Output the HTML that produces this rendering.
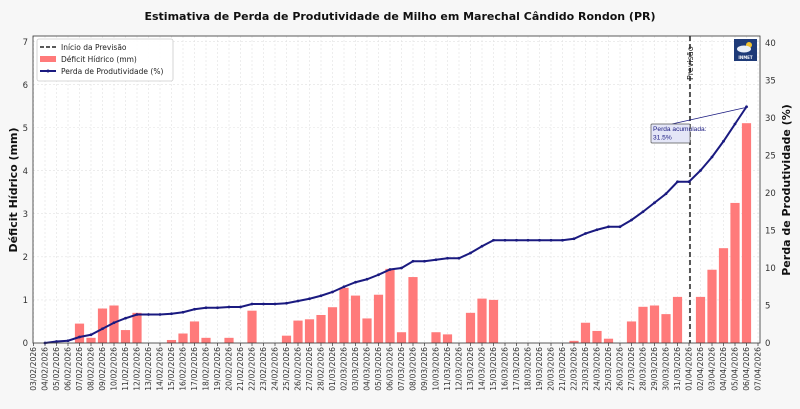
<!DOCTYPE html>
<html><head><meta charset="utf-8"><style>
html,body{margin:0;padding:0;background:#f7f7f7;}
svg{display:block;font-family:"DejaVu Sans","Liberation Sans",sans-serif;}
</style></head><body>
<svg id="s" width="800" height="409" xmlns="http://www.w3.org/2000/svg">
<rect x="0" y="0" width="800" height="409" fill="#f7f7f7"/>
<rect x="33" y="36" width="727" height="307" fill="#ffffff"/>
<g id="grid"></g>
<g id="bars"></g>
<line x1="690" y1="36" x2="690" y2="343" stroke="#222" stroke-width="1.5" stroke-dasharray="5,3"/>
<text transform="translate(693,80) rotate(-90)" font-size="8" fill="#222">Previsão</text>
<g id="line"></g>
<rect x="33" y="36" width="727" height="307" fill="none" stroke="#333" stroke-width="0.8"/>
<text x="400" y="20" text-anchor="middle" font-size="11" font-weight="bold" fill="#111">Estimativa de Perda de Produtividade de Milho em Marechal Cândido Rondon (PR)</text>
<text transform="translate(17,190) rotate(-90)" text-anchor="middle" font-size="11" font-weight="bold" fill="#111">Déficit Hídrico (mm)</text>
<text transform="translate(790,190) rotate(-90)" text-anchor="middle" font-size="11" font-weight="bold" fill="#111">Perda de Produtividade (%)</text>
<g font-size="8.5" fill="#333">
<text x="28" y="346" text-anchor="end">0</text>
<text x="28" y="303" text-anchor="end">1</text>
<text x="28" y="260" text-anchor="end">2</text>
<text x="28" y="217" text-anchor="end">3</text>
<text x="28" y="174" text-anchor="end">4</text>
<text x="28" y="131" text-anchor="end">5</text>
<text x="28" y="88" text-anchor="end">6</text>
<text x="28" y="45" text-anchor="end">7</text>
<text x="765" y="346">0</text>
<text x="765" y="308.5">5</text>
<text x="765" y="271">10</text>
<text x="765" y="233.5">15</text>
<text x="765" y="196">20</text>
<text x="765" y="158.5">25</text>
<text x="765" y="121">30</text>
<text x="765" y="83.5">35</text>
<text x="765" y="46">40</text>
</g>
<g id="ticks" font-size="7.6" fill="#333">
<text transform="translate(36,347) rotate(-90)" text-anchor="end">03/02/2026</text>
<text transform="translate(47.5,347) rotate(-90)" text-anchor="end">04/02/2026</text>
<text transform="translate(59,347) rotate(-90)" text-anchor="end">05/02/2026</text>
<text transform="translate(70.5,347) rotate(-90)" text-anchor="end">06/02/2026</text>
<text transform="translate(82,347) rotate(-90)" text-anchor="end">07/02/2026</text>
<text transform="translate(93.5,347) rotate(-90)" text-anchor="end">08/02/2026</text>
<text transform="translate(105,347) rotate(-90)" text-anchor="end">09/02/2026</text>
<text transform="translate(116.5,347) rotate(-90)" text-anchor="end">10/02/2026</text>
<text transform="translate(128,347) rotate(-90)" text-anchor="end">11/02/2026</text>
<text transform="translate(139.5,347) rotate(-90)" text-anchor="end">12/02/2026</text>
<text transform="translate(151,347) rotate(-90)" text-anchor="end">13/02/2026</text>
<text transform="translate(162.5,347) rotate(-90)" text-anchor="end">14/02/2026</text>
<text transform="translate(174,347) rotate(-90)" text-anchor="end">15/02/2026</text>
<text transform="translate(185.5,347) rotate(-90)" text-anchor="end">16/02/2026</text>
<text transform="translate(197,347) rotate(-90)" text-anchor="end">17/02/2026</text>
<text transform="translate(208.5,347) rotate(-90)" text-anchor="end">18/02/2026</text>
<text transform="translate(220,347) rotate(-90)" text-anchor="end">19/02/2026</text>
<text transform="translate(231.5,347) rotate(-90)" text-anchor="end">20/02/2026</text>
<text transform="translate(243,347) rotate(-90)" text-anchor="end">21/02/2026</text>
<text transform="translate(254.5,347) rotate(-90)" text-anchor="end">22/02/2026</text>
<text transform="translate(266,347) rotate(-90)" text-anchor="end">23/02/2026</text>
<text transform="translate(277.5,347) rotate(-90)" text-anchor="end">24/02/2026</text>
<text transform="translate(289,347) rotate(-90)" text-anchor="end">25/02/2026</text>
<text transform="translate(300.5,347) rotate(-90)" text-anchor="end">26/02/2026</text>
<text transform="translate(312,347) rotate(-90)" text-anchor="end">27/02/2026</text>
<text transform="translate(323.5,347) rotate(-90)" text-anchor="end">28/02/2026</text>
<text transform="translate(335,347) rotate(-90)" text-anchor="end">01/03/2026</text>
<text transform="translate(346.5,347) rotate(-90)" text-anchor="end">02/03/2026</text>
<text transform="translate(358,347) rotate(-90)" text-anchor="end">03/03/2026</text>
<text transform="translate(369.5,347) rotate(-90)" text-anchor="end">04/03/2026</text>
<text transform="translate(381,347) rotate(-90)" text-anchor="end">05/03/2026</text>
<text transform="translate(392.5,347) rotate(-90)" text-anchor="end">06/03/2026</text>
<text transform="translate(404,347) rotate(-90)" text-anchor="end">07/03/2026</text>
<text transform="translate(415.5,347) rotate(-90)" text-anchor="end">08/03/2026</text>
<text transform="translate(427,347) rotate(-90)" text-anchor="end">09/03/2026</text>
<text transform="translate(438.5,347) rotate(-90)" text-anchor="end">10/03/2026</text>
<text transform="translate(450,347) rotate(-90)" text-anchor="end">11/03/2026</text>
<text transform="translate(461.5,347) rotate(-90)" text-anchor="end">12/03/2026</text>
<text transform="translate(473,347) rotate(-90)" text-anchor="end">13/03/2026</text>
<text transform="translate(484.5,347) rotate(-90)" text-anchor="end">14/03/2026</text>
<text transform="translate(496,347) rotate(-90)" text-anchor="end">15/03/2026</text>
<text transform="translate(507.5,347) rotate(-90)" text-anchor="end">16/03/2026</text>
<text transform="translate(519,347) rotate(-90)" text-anchor="end">17/03/2026</text>
<text transform="translate(530.5,347) rotate(-90)" text-anchor="end">18/03/2026</text>
<text transform="translate(542,347) rotate(-90)" text-anchor="end">19/03/2026</text>
<text transform="translate(553.5,347) rotate(-90)" text-anchor="end">20/03/2026</text>
<text transform="translate(565,347) rotate(-90)" text-anchor="end">21/03/2026</text>
<text transform="translate(576.5,347) rotate(-90)" text-anchor="end">22/03/2026</text>
<text transform="translate(588,347) rotate(-90)" text-anchor="end">23/03/2026</text>
<text transform="translate(599.5,347) rotate(-90)" text-anchor="end">24/03/2026</text>
<text transform="translate(611,347) rotate(-90)" text-anchor="end">25/03/2026</text>
<text transform="translate(622.5,347) rotate(-90)" text-anchor="end">26/03/2026</text>
<text transform="translate(634,347) rotate(-90)" text-anchor="end">27/03/2026</text>
<text transform="translate(645.5,347) rotate(-90)" text-anchor="end">28/03/2026</text>
<text transform="translate(657,347) rotate(-90)" text-anchor="end">29/03/2026</text>
<text transform="translate(668.5,347) rotate(-90)" text-anchor="end">30/03/2026</text>
<text transform="translate(680,347) rotate(-90)" text-anchor="end">31/03/2026</text>
<text transform="translate(691.5,347) rotate(-90)" text-anchor="end">01/04/2026</text>
<text transform="translate(703,347) rotate(-90)" text-anchor="end">02/04/2026</text>
<text transform="translate(714.5,347) rotate(-90)" text-anchor="end">03/04/2026</text>
<text transform="translate(726,347) rotate(-90)" text-anchor="end">04/04/2026</text>
<text transform="translate(737.5,347) rotate(-90)" text-anchor="end">05/04/2026</text>
<text transform="translate(749,347) rotate(-90)" text-anchor="end">06/04/2026</text>
<text transform="translate(760.5,347) rotate(-90)" text-anchor="end">07/04/2026</text>
</g>
<rect x="37" y="39" width="136" height="42" rx="2" fill="#fff" fill-opacity="0.9" stroke="#ccc" stroke-width="0.8"/>
<line x1="40" y1="47" x2="56" y2="47" stroke="#222" stroke-width="1.5" stroke-dasharray="4,2"/>
<rect x="40" y="56" width="16" height="6" fill="#ff7a7a"/>
<line x1="40" y1="71" x2="56" y2="71" stroke="#1a1a80" stroke-width="2"/>
<circle cx="48" cy="71" r="1.5" fill="#1a1a80"/>
<g font-size="7.5" fill="#222">
<text x="61" y="50">Início da Previsão</text>
<text x="61" y="62">Déficit Hídrico (mm)</text>
<text x="61" y="74">Perda de Produtividade (%)</text>
</g>
<rect x="734" y="39" width="23" height="22" fill="#1e3a78"/>
<circle cx="749" cy="45" r="3" fill="#f2c230"/>
<ellipse cx="744" cy="49" rx="7" ry="3.5" fill="#e8eef8"/>
<text x="745.5" y="59" text-anchor="middle" font-size="4" fill="#fff" font-weight="bold">INMET</text>
<line x1="672" y1="124" x2="748" y2="107" stroke="#1a1a80" stroke-width="0.8"/>
<rect x="651" y="124" width="39" height="19" fill="#e4e6f7" stroke="#555" stroke-width="0.7" rx="1"/>
<text x="653" y="131" font-size="6.6" fill="#1a1a80" font-family="Liberation Sans, sans-serif">Perda acumulada:</text>
<text x="653" y="139.5" font-size="6.6" fill="#1a1a80" font-family="Liberation Sans, sans-serif">31.5%</text>
</svg>
<script>
var ns="http://www.w3.org/2000/svg";
function el(t,a,p){var e=document.createElementNS(ns,t);for(var k in a)e.setAttribute(k,a[k]);document.getElementById(p).appendChild(e);return e;}
var X0=33.5,DX=11.5,Y0=343;
for(var i=0;i<64;i++){var x=X0+i*DX;el("line",{x1:x,y1:36,x2:x,y2:343,stroke:"#e2e2e2","stroke-width":0.6,"stroke-dasharray":"2,2"},"grid");el("line",{x1:x,y1:343,x2:x,y2:346,stroke:"#333","stroke-width":0.7},"grid");}
for(var j=1;j<=7;j++){var y=Y0-j*43.1;el("line",{x1:33,y1:y,x2:760,y2:y,stroke:"#e2e2e2","stroke-width":0.6,"stroke-dasharray":"2,2"},"grid");}
var b=[0,0,0,0.45,0.12,0.8,0.87,0.3,0.7,0,0,0.07,0.22,0.5,0.12,0,0.12,0,0.75,0,0,0.17,0.52,0.55,0.65,0.83,1.28,1.1,0.57,1.12,1.72,0.25,1.53,0,0.25,0.2,0,0.7,1.03,1.0,0,0,0,0,0,0,0.05,0.47,0.28,0.1,0,0.5,0.84,0.87,0.67,1.07,0,1.07,1.7,2.2,3.25,5.1];
var p=[0,0.2,0.3,0.8,1.1,1.9,2.7,3.3,3.8,3.8,3.8,3.9,4.1,4.5,4.7,4.7,4.8,4.8,5.2,5.2,5.2,5.3,5.6,5.9,6.3,6.8,7.5,8.1,8.5,9.1,9.8,10.0,10.9,10.9,11.1,11.3,11.3,12.0,12.9,13.7,13.7,13.7,13.7,13.7,13.7,13.7,13.9,14.6,15.1,15.5,15.5,16.4,17.5,18.7,19.9,21.5,21.5,23,24.8,26.9,29.2,31.5];
var pts=[];
for(var i=0;i<b.length;i++){var x=X0+(i+1)*DX;if(b[i]>0){var h=b[i]*43.1;el("rect",{x:x-4.6,y:Y0-h,width:9.2,height:h,fill:"#ff7a7a"},"bars");}pts.push(x+","+(Y0-p[i]*7.5));}
el("polyline",{points:pts.join(" "),fill:"none",stroke:"#1a1a80","stroke-width":2},"line");
for(var i=0;i<p.length;i++){el("circle",{cx:X0+(i+1)*DX,cy:Y0-p[i]*7.5,r:1.4,fill:"#1a1a80"},"line");}
</script>
</body></html>
